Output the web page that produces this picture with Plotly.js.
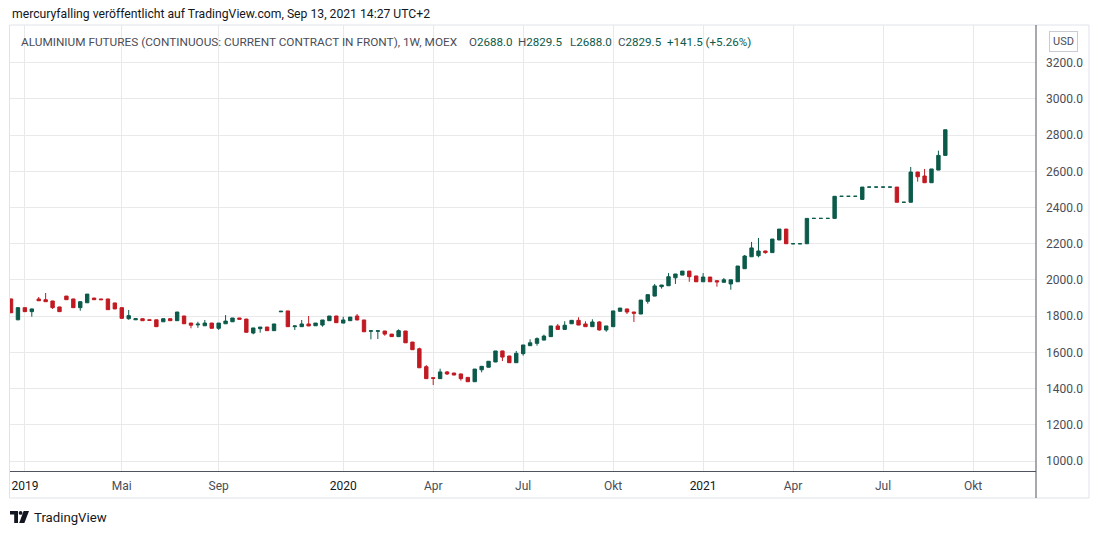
<!DOCTYPE html>
<html>
<head>
<meta charset="utf-8">
<script src="https://cdn.plot.ly/plotly-3.0.1.min.js"></script>
<style>
  html, body { margin: 0; padding: 0; background: #ffffff; }
  #chart { width: 1100px; height: 534px; position: absolute; left: 0; top: 0; }
  #logo { position: absolute; left: 10px; top: 508px; height: 18px; display: flex; align-items: center;
          font-family: Roboto, "Liberation Sans", sans-serif; font-size: 13.2px; color: #131722; }
  #logo svg { margin-right: 5px; }
</style>
</head>
<body>
<div id="chart"></div>
<div id="logo">
  <svg width="19" height="12" viewBox="0 0 19 12">
    <path d="M0 0 H8 V12 H4.2 V3.6 H0 Z" fill="#131722"/>
    <circle cx="10.6" cy="1.9" r="1.9" fill="#131722"/>
    <path d="M13.6 0 H19 L14.4 12 H9.2 Z" fill="#131722"/>
  </svg>
  <span>TradingView</span>
</div>
<script>
// ---- data (weekly bars) ----
const opens = [1895,1780,1847,1825,1895,1891,1884,1851,1911,1895,1847,1874,1900,1895,1895,1873,1847,1786,1780,1786,
  1780,1780,1769,1786,1775,1801,1762,1752,1747,1762,1733,1758,1769,1790,1784,1707,1731,1740,1720,1824,
  1829,1742,1742,1757,1747,1751,1775,1801,1762,1775,1801,1779,1717,1717,1718,1701,1687,1718,1657,1620,
  1521,1460,1455,1492,1486,1481,1462,1438,1504,1518,1547,1608,1580,1543,1593,1637,1650,1668,1687,1746,
  1727,1758,1777,1757,1742,1768,1724,1742,1827,1840,1823,1812,1882,1911,1963,1968,2012,2027,2049,2022,
  1990,2016,1996,1987,1978,1990,2062,2128,2134,2160,2151,2221,2281,2200,2200,2200,2340,2340,2340,2340,
  2462,2462,2462,2445,2513,2513,2513,2513,2513,2429,2429,2596,2574,2537,2607,2688];
const highs = [1897,1848,1848,1841,1906,1928,1885,1852,1912,1896,1881,1922,1901,1896,1896,1874,1848,1834,1787,1787,
  1781,1781,1787,1787,1823,1802,1763,1769,1779,1763,1762,1806,1790,1791,1785,1735,1740,1741,1757,1829,
  1830,1747,1779,1801,1762,1779,1801,1802,1797,1795,1812,1780,1720,1720,1719,1702,1727,1719,1658,1626,
  1530,1461,1510,1497,1487,1482,1463,1508,1523,1551,1608,1609,1581,1608,1641,1672,1683,1698,1746,1757,
  1772,1777,1794,1772,1783,1773,1746,1829,1845,1841,1824,1889,1919,1978,1972,2038,2033,2049,2050,2023,
  2038,2017,1997,2011,2001,2077,2138,2210,2232,2161,2226,2281,2282,2200,2200,2340,2340,2340,2340,2462,
  2462,2462,2462,2513,2513,2513,2513,2513,2513,2429,2624,2597,2613,2613,2714,2829.5];
const lows = [1817,1778,1824,1797,1884,1879,1840,1824,1890,1846,1830,1873,1890,1890,1835,1839,1787,1780,1779,1774,
  1776,1741,1768,1774,1774,1757,1733,1736,1746,1732,1724,1757,1768,1782,1710,1700,1709,1719,1719,1823,
  1741,1724,1741,1745,1746,1742,1774,1763,1761,1774,1778,1713,1672,1674,1692,1686,1686,1652,1614,1514,
  1454,1420,1454,1475,1474,1444,1437,1437,1490,1517,1546,1552,1542,1542,1582,1636,1637,1667,1686,1726,
  1726,1757,1750,1741,1741,1720,1714,1741,1826,1812,1768,1811,1869,1910,1952,1967,1978,2026,1990,1989,
  1989,1989,1963,1986,1946,1989,2061,2127,2125,2145,2150,2220,2200,2200,2200,2200,2340,2340,2340,2340,
  2462,2462,2462,2445,2513,2513,2513,2513,2429,2429,2429,2543,2536,2537,2606,2688];
const closes = [1819,1847,1825,1840,1885,1880,1847,1825,1891,1847,1880,1922,1891,1891,1836,1840,1788,1803,1786,1775,
  1777,1742,1786,1775,1823,1758,1750,1756,1762,1733,1762,1773,1790,1783,1711,1735,1740,1720,1757,1827,
  1742,1746,1757,1746,1762,1779,1801,1764,1779,1795,1779,1714,1719,1719,1701,1687,1720,1653,1615,1515,
  1455,1457,1492,1481,1475,1455,1438,1508,1523,1551,1608,1574,1543,1595,1641,1653,1676,1690,1746,1727,
  1750,1777,1751,1742,1768,1724,1746,1829,1845,1823,1816,1889,1919,1967,1972,2018,2033,2049,2018,1990,
  2016,1990,1989,2001,2001,2077,2132,2177,2160,2151,2226,2281,2200,2200,2200,2340,2340,2340,2340,2462,
  2462,2462,2462,2513,2513,2513,2513,2513,2429,2429,2596,2570,2537,2613,2688,2829.5];

// time-axis labels and the bar (week) on which each one sits
const tickLabels = ['2019','Mai','Sep','2020','Apr','Jul','Okt','2021','Apr','Jul','Okt'];
const tickBars   = [2, 16, 30, 48, 61, 74, 87, 100, 113, 126, 139];
const priceTicks = [1000,1200,1400,1600,1800,2000,2200,2400,2600,2800,3000,3200];

// header texts
const authorLine = 'mercuryfalling veröffentlicht auf TradingView.com, Sep 13, 2021 14:27 UTC+2';
const symbolLine = 'ALUMINIUM FUTURES (CONTINUOUS: CURRENT CONTRACT IN FRONT), 1W, MOEX';
const ohlcNames  = ['O','H','L','C'];
const ohlcValues = ['2688.0','2829.5','2688.0','2829.5'];
const changeText = '+141.5 (+5.26%)';
const currency   = 'USD';

// ---- styles ----
const UP = '#0b5a4a', DOWN = '#c21a22';
const FONT = 'Roboto, "Liberation Sans", sans-serif';
const TXT = '#131722', SUB = '#4a4d57', GRID = '#e9e9ec', AXIS = '#50535e';

// split bars: close >= open drawn in up colour, others in down colour
function subset(pred) {
  const s = {x: [], open: [], high: [], low: [], close: []};
  opens.forEach((o, i) => {
    if (pred(o, closes[i])) {
      s.x.push(i); s.open.push(o); s.high.push(highs[i]); s.low.push(lows[i]); s.close.push(closes[i]);
    }
  });
  return s;
}
const upBars = subset((o, c) => c >= o);
const downBars = subset((o, c) => c < o);

function candleTrace(s, color) {
  return Object.assign({
    type: 'candlestick', xaxis: 'x', yaxis: 'y', hoverinfo: 'skip', showlegend: false,
    increasing: {line: {color: color, width: 1}, fillcolor: color},
    decreasing: {line: {color: color, width: 1}, fillcolor: color}
  }, s);
}

const data = [candleTrace(upBars, UP), candleTrace(downBars, DOWN)];

const styledTicks = tickLabels.map(t => /^\d{4}$/.test(t)
  ? '<span style="color:' + TXT + '">' + t + '</span>'
  : '<span style="color:' + SUB + '">' + t + '</span>');

// pixel helpers for paper coordinates (plot area: x 10..1036, y 25..471)
const PX = px => (px - 10) / 1026;
const PY = py => (471 - py) / 446;

// legend row pieces: left pixel of each piece
const ohlcLeft = [466.5, 515.5, 567.5, 616, 664.5];
const legendAnnots = ohlcNames.map((n, i) => ({
  xref: 'paper', yref: 'paper', x: PX(ohlcLeft[i]), y: PY(42), xanchor: 'left', yanchor: 'middle',
  showarrow: false, font: {family: FONT, size: 11.6, color: UP},
  text: '<span style="color:' + SUB + '">' + n + '</span>' + ohlcValues[i]
}));
legendAnnots.push({
  xref: 'paper', yref: 'paper', x: PX(ohlcLeft[4]), y: PY(42), xanchor: 'left', yanchor: 'middle',
  showarrow: false, font: {family: FONT, size: 11.6, color: UP}, text: changeText
});

const layout = {
  width: 1100, height: 534,
  margin: {l: 10, r: 64, t: 25, b: 63},
  paper_bgcolor: '#ffffff', plot_bgcolor: '#ffffff',
  font: {family: FONT, size: 12, color: TXT},
  showlegend: false,
  boxgap: 0.3,
  xaxis: {
    type: 'linear', range: [-0.15, 148.1], fixedrange: true,
    rangeslider: {visible: false},
    tickmode: 'array', tickvals: tickBars, ticktext: styledTicks,
    showgrid: true, gridcolor: GRID, gridwidth: 1, zeroline: false,
    showline: true, linecolor: AXIS, linewidth: 1, ticks: '',
    tickfont: {family: FONT, size: 12, color: TXT}, ticklabelstandoff: 4
  },
  yaxis: {
    side: 'right', range: [945, 3408], fixedrange: true,
    tickmode: 'array', tickvals: priceTicks, ticktext: priceTicks.map(v => v.toFixed(1)),
    showgrid: true, gridcolor: GRID, gridwidth: 1, zeroline: false,
    showline: false, ticks: '', ticklabelstandoff: 9,
    tickfont: {family: FONT, size: 12, color: SUB}
  },
  shapes: [
    {type: 'rect', xref: 'paper', yref: 'paper', x0: PX(9.5), x1: PX(1089), y0: PY(498), y1: PY(25),
     line: {color: '#e0e3eb', width: 1}, fillcolor: 'rgba(0,0,0,0)', layer: 'below'},
    {type: 'line', xref: 'paper', yref: 'paper', x0: 1, x1: 1, y0: PY(498), y1: 1,
     line: {color: AXIS, width: 1}}
  ],
  annotations: [
    {xref: 'paper', yref: 'paper', x: PX(10), y: PY(14), xanchor: 'left', yanchor: 'middle',
     text: authorLine, showarrow: false, font: {family: FONT, size: 12.2, color: TXT}},
    {xref: 'paper', yref: 'paper', x: PX(19), y: PY(42), xanchor: 'left', yanchor: 'middle',
     text: symbolLine, showarrow: false, font: {family: FONT, size: 11.8, color: SUB}},
    {xref: 'paper', yref: 'paper', x: PX(1063), y: PY(41), xanchor: 'center', yanchor: 'middle',
     text: currency, showarrow: false, font: {family: FONT, size: 11, color: SUB},
     bordercolor: '#c9ccd4', borderwidth: 1, borderpad: 3, bgcolor: '#ffffff'}
  ].concat(legendAnnots)
};

Plotly.newPlot('chart', data, layout, {staticPlot: true, displayModeBar: false});
</script>
</body>
</html>
